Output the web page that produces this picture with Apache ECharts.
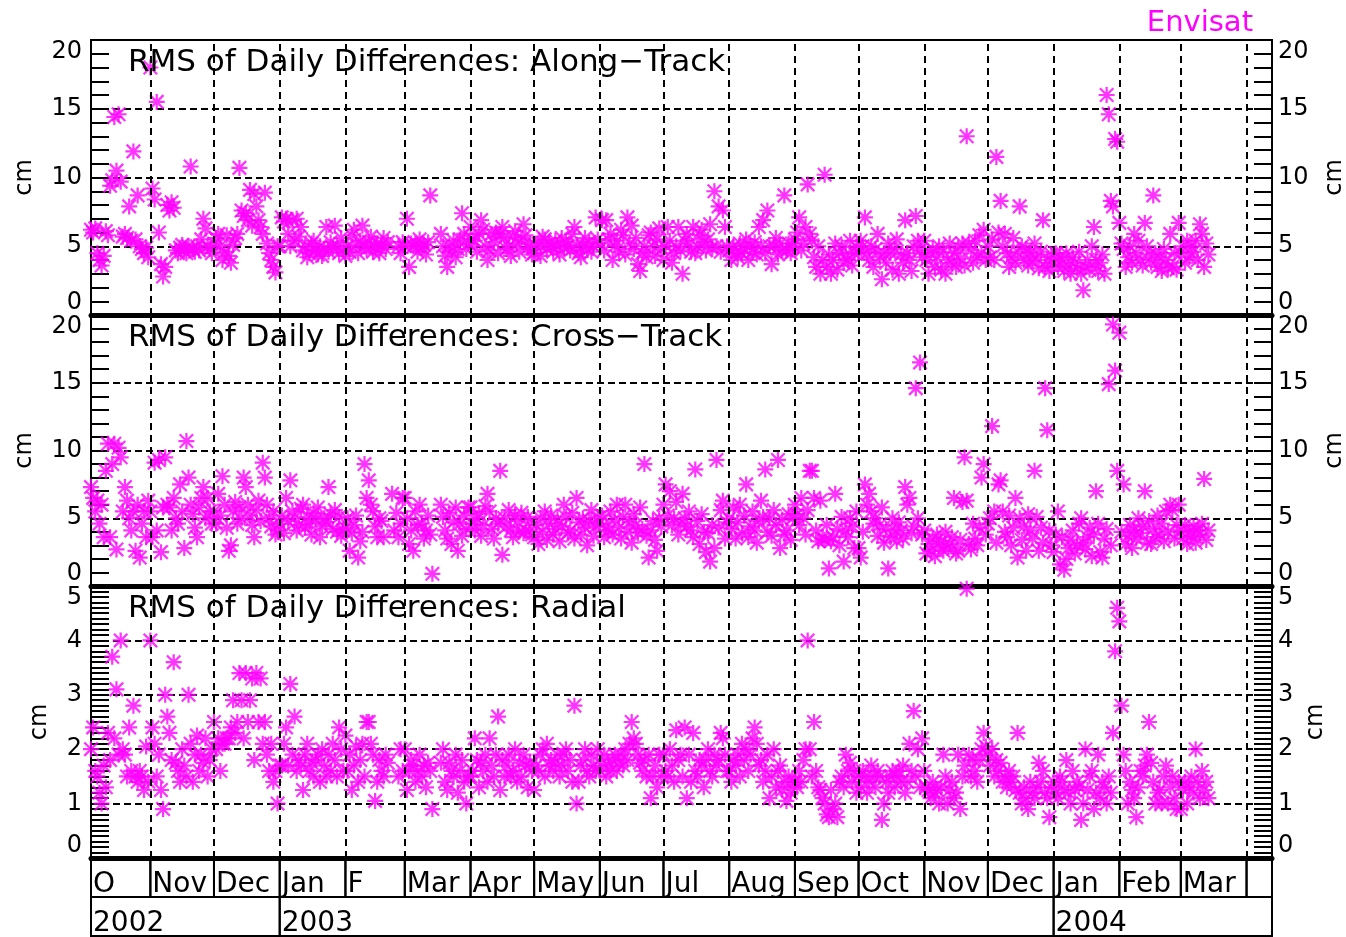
<!DOCTYPE html>
<html>
<head>
<meta charset="utf-8">
<title>Envisat RMS of Daily Differences</title>
<script src="https://cdn.jsdelivr.net/npm/echarts@6/dist/echarts.min.js"></script>
<style>
  html, body { margin: 0; padding: 0; background: #fff; }
  #chart { width: 1346px; height: 937px; }
</style>
</head>
<body>
<div id="chart"></div>
<script>
// time range of the x axis and first day of the daily series
const axisStart = '2002-10-04'
const axisEnd = '2004-04-13'
const dataStart = '2002-10-04'

// month boxes under the plots
const monthStarts = ['2002-11-01', '2002-12-01', '2003-01-01', '2003-02-01', '2003-03-01', '2003-04-01',
  '2003-05-01', '2003-06-01', '2003-07-01', '2003-08-01', '2003-09-01', '2003-10-01', '2003-11-01',
  '2003-12-01', '2004-01-01', '2004-02-01', '2004-03-01', '2004-04-01']
const monthLabels = ['O', 'Nov', 'Dec', 'Jan', 'F', 'Mar', 'Apr', 'May', 'Jun', 'Jul', 'Aug', 'Sep',
  'Oct', 'Nov', 'Dec', 'Jan', 'Feb', 'Mar', '']
const yearStarts = ['2003-01-01', '2004-01-01']
const yearLabels = ['2002', '2003', '2004']

const panelTitles = ['RMS of Daily Differences: Along\u2212Track', 'RMS of Daily Differences: Cross\u2212Track',
  'RMS of Daily Differences: Radial']

// daily RMS values (cm), one line per month, null = no data
const alongTrack = [
  6.2, 6.0, 6.3, 4.5, 4.0, 3.6, 4.3, 6.1, 5.8, 9.4, 9.8, 14.4, 10.5, 14.6, 9.7, 5.7, 5.9, 5.6, 7.9, 5.4, 11.9, 5.5, 8.7, 5.0, 4.8, 4.5, 4.9, 4.2,
  18.0, 9.2, 8.4, 15.5, 6.0, 3.7, 2.8, 3.5, 8.0, 7.6, 8.2, 7.8, 4.7, 4.5, 4.9, 5.1, 4.7, 4.5, 5.0, 10.8, 4.8, 4.6, 5.0, 4.7, 5.5, 7.0, 6.3, 5.0, 4.8, 4.5,
  5.2, 5.6, 5.9, 5.0, 4.0, 4.6, 5.8, 4.3, 3.8, 5.1, 5.6, 5.9, 10.7, 7.6, 7.2, 7.4, 6.9, 9.1, 6.5, 8.8, 7.9, 6.9, 6.4, 5.9, 8.9, 5.2, 4.5, 4.0, 3.5, 3.1, 5.0,
  5.0, 7.1, 6.8, 7.0, 5.9, 5.0, 6.9, 5.4, 7.0, 5.7, 6.4, 4.7, 5.0, 4.2, 4.5, 5.2, 5.4, 4.7, 4.4, 5.0, 4.3, 4.8, 6.4, 4.6, 5.3, 4.9, 6.5, 5.0, 4.5, 5.6, 4.8,
  4.3, 5.0, 4.6, 5.8, 6.2, 5.1, 4.5, 5.4, 6.5, 5.0, 4.8, 5.3, 5.7, 4.6, 4.9, 5.2, 4.5, 5.1, 5.6, 4.8, 5.3, null, null, null, null, 5.0, 4.5, 5.3,
  5.0, 7.0, 3.5, 5.2, 5.0, 5.2, 4.6, 5.5, 4.9, 5.1, 4.4, 5.3, 8.7, null, null, null, null, 5.9, 5.0, 4.3, 3.5, 5.0, 4.6, 5.4, 4.2, 4.8, 5.5, 7.4, 5.9, 4.8, 5.2,
  6.4, 5.5, 5.4, 4.6, 5.9, 6.9, 6.2, 5.0, 4.0, 4.7, 5.9, 5.3, 6.0, 4.5, 5.9, 6.4, 5.6, 4.8, 5.0, 4.3, 5.7, 6.1, 5.2, 4.6, 5.5, 6.6, 5.8, 4.9, 5.2, 4.4,
  4.5, 5.0, 5.2, 4.3, 5.7, 5.5, 4.8, 5.2, 5.0, 4.6, 5.4, 5.0, 4.4, 5.6, 4.9, 5.3, 5.0, 4.7, 5.9, 6.4, 5.1, 4.5, 4.2, 5.0, 5.6, 4.8, 5.3, 4.6, 5.0, 7.1, 5.5,
  5.2, 6.9, 4.7, 6.9, 5.5, 5.9, 4.0, 5.0, 5.4, 4.6, 6.2, 5.8, 4.4, 7.1, 5.2, 6.5, 4.8, 5.6, 3.7, 3.2, 4.5, 5.0, 4.2, 5.8, 6.0, 5.0, 4.3, 5.5, 6.3, 4.8,
  4.0, 5.0, 6.4, 5.4, 3.8, 4.5, 5.0, 6.4, 4.7, 3.0, 5.4, 5.9, 5.2, 4.6, 6.4, 4.5, 5.0, 5.8, 6.2, 5.3, 4.7, 5.5, 6.6, 4.9, 9.0, 5.0, 7.9, 4.6, 7.6, 6.4, 5.0,
  4.7, 4.0, 5.0, 4.5, 4.2, 5.2, 4.5, 4.8, 5.5, 4.0, 5.0, 4.6, 5.3, 4.4, 6.4, 5.0, 6.9, 4.5, 7.6, 5.0, 3.7, 5.0, 5.6, 4.4, 5.2, 4.7, 8.7, 4.7, 5.2, 4.5, 5.0,
  5.5, 6.0, 7.1, 4.7, 5.2, 6.4, 9.5, 5.9, 5.4, 4.2, 3.5, 5.0, 3.0, 4.0, 10.2, 3.5, 4.4, 3.0, 4.0, 5.2, 3.3, 4.5, 5.0, 3.8, 4.4, 4.0, 5.4, 3.6, 4.5, 5.0,
  4.5, 5.4, 5.0, 7.1, 4.5, 4.0, 5.0, 3.5, 4.8, 5.9, 4.2, 2.6, 4.5, 3.8, 5.2, 4.5, 3.3, 4.8, 5.5, 3.0, 4.4, 3.8, 6.9, 4.5, 4.0, 3.2, 5.0, 7.2, 5.4, 4.7, 4.2,
  5.4, 4.0, 3.0, 4.5, 4.8, 3.5, 4.2, 5.0, 3.3, 4.6, 3.0, 4.0, 5.2, 3.8, 4.5, 3.5, 4.9, 4.1, 5.2, 3.6, 13.0, 5.2, 4.7, 3.8, 5.4, 4.2, 5.8, 4.5, 6.2, 4.0,
  5.0, 4.2, 5.5, 4.0, 11.5, 6.0, 8.3, 5.0, 5.9, 4.5, 3.5, 4.2, 5.6, 3.8, 4.6, 7.9, 5.0, 4.0, 4.8, 3.6, 4.5, 3.9, 5.2, 4.2, 3.4, 4.6, 6.9, 3.5, 4.0, 3.2, 4.4,
  3.8, 4.5, 3.5, 4.2, 4.0, 3.2, 4.5, 3.6, 3.0, 4.2, 3.8, 3.4, 4.6, 3.0, 1.8, 3.5, 4.0, 3.3, 5.0, 6.4, 4.0, 3.2, 3.8, 4.4, 3.0, 16.0, 14.6, 8.3, 7.9, 12.8, 12.6,
  6.7, 5.2, 4.8, 3.5, 4.2, 5.0, 3.8, 5.9, 4.5, 5.4, 4.0, 3.6, 6.7, 5.0, 4.4, 3.8, 8.7, 4.5, 3.5, 4.2, 3.2, 4.8, 4.0, 3.4, 5.9, 3.5, 4.5, 3.3, 6.7,
  4.5, 5.0, 3.8, 5.4, 4.2, 5.0, 4.6, 5.4, 4.0, 6.6, 5.9, 3.5, 5.2, 4.4
]

const crossTrack = [
  7.3, 6.5, 5.5, 6.3, 4.6, 6.0, 3.6, 8.5, 10.5, 3.6, 9.0, 10.5, 2.7, 10.2, 9.5, 5.5, 7.3, 6.3, 5.0, 4.1, 5.5, 2.6, 6.0, 2.1, 4.6, 5.5, 3.6, 6.3,
  5.5, 3.6, 9.1, 4.1, 9.3, 2.5, 5.8, 9.5, 6.0, 5.8, 4.1, 6.5, 5.0, 4.6, 7.5, 5.5, 2.8, 10.7, 8.0, 6.0, 5.3, 4.3, 3.6, 5.8, 6.5, 7.3, 5.0, 6.5, 5.5, 4.6,
  5.5, 4.6, 6.8, 5.2, 8.1, 6.0, 4.3, 2.6, 3.0, 5.5, 6.2, 4.6, 5.8, 5.0, 8.0, 7.3, 6.0, 5.2, 4.5, 3.6, 5.6, 6.3, 4.8, 9.1, 8.0, 6.0, 5.0, 4.4, 5.5, 3.8, 4.1,
  4.6, 5.2, 3.9, 6.5, 4.8, 7.8, 5.5, 5.0, 4.1, 4.5, 5.7, 6.0, 4.3, 5.1, 4.6, 3.8, 5.4, 4.9, 5.8, 3.6, 4.4, 5.0, 4.7, 7.3, 5.3, 4.2, 5.6, 4.0, 5.1, 3.7, 4.1,
  4.3, 5.0, 2.6, 3.9, 4.5, 5.2, 2.1, 3.3, 4.0, 9.0, 6.5, 7.8, 6.0, 5.5, 4.4, 3.6, 5.0, 4.8, 3.6, null, null, null, 6.8, 4.1, 5.4, 3.6, 4.6, 6.5,
  6.5, 5.0, 3.1, 4.1, 2.6, 5.5, 4.5, 6.0, 4.6, 3.5, 4.1, 5.2, 3.8, 0.9, null, null, null, 6.0, 5.1, 4.1, 3.5, 5.4, 3.1, 4.7, 5.8, 2.6, 4.6, 3.7, 5.2, 4.2, 5.8,
  5.8, 4.6, 4.1, 5.0, 5.3, 3.7, 4.5, 5.9, 6.8, 5.5, 4.2, 3.5, 5.0, 4.6, 8.5, 2.3, 5.0, 4.4, 5.6, 4.1, 3.6, 5.2, 4.8, 4.0, 5.4, 3.9, 4.1, 5.1, 4.7, 3.8,
  3.6, 4.5, 3.1, 5.0, 4.0, 5.5, 3.4, 4.6, 5.2, 3.8, 4.2, 4.9, 3.3, 4.4, 6.0, 5.1, 3.9, 4.1, 5.4, 3.5, 6.5, 4.7, 3.8, 5.0, 4.3, 3.0, 4.8, 5.6, 3.7, 4.4, 5.0,
  4.6, 5.2, 3.6, 4.4, 4.1, 5.5, 3.8, 4.9, 6.0, 4.3, 3.5, 5.1, 6.0, 4.0, 4.7, 3.2, 5.3, 4.5, 3.9, 5.8, 4.2, 9.0, 3.7, 2.1, 4.1, 4.8, 3.4, 2.6, 5.0, 4.4,
  6.0, 7.5, 5.2, 7.0, 4.5, 5.0, 6.2, 3.8, 4.6, 6.8, 5.0, 4.4, 5.5, 4.1, 3.6, 8.6, 4.8, 3.1, 5.3, 4.0, 2.5, 3.9, 1.8, 4.5, 2.8, 9.3, 4.3, 5.6, 6.3, 3.5, 4.7,
  5.0, 4.2, 5.8, 3.5, 4.7, 6.0, 3.9, 5.2, 7.5, 3.6, 4.4, 5.5, 4.1, 3.2, 4.8, 6.3, 5.1, 8.6, 4.0, 5.0, 3.7, 5.6, 4.5, 9.3, 2.8, 4.9, 3.8, 4.1, 5.3, 3.4, 5.0,
  6.0, 5.3, 4.5, 6.5, 5.0, 3.8, 5.6, 8.5, 8.5, 6.5, 4.1, 3.3, 6.3, 3.5, 3.4, 4.5, 1.3, 3.3, 3.6, 6.8, 4.2, 3.0, 5.1, 1.8, 4.1, 3.6, 5.0, 4.4, 2.8, 5.5,
  2.8, 2.1, 4.0, 7.5, 6.0, 6.8, 5.5, 4.6, 5.0, 3.7, 4.5, 5.8, 3.2, 4.2, 1.3, 3.6, 5.0, 4.1, 3.3, 4.7, 4.1, 3.5, 7.3, 6.0, 6.5, 3.9, 4.4, 14.6, 5.0, 16.5, 3.8,
  4.1, 2.4, 3.1, 2.6, 3.5, 2.2, 3.8, 2.9, 3.3, 2.6, 4.0, 2.8, 3.1, 3.6, 6.5, 2.4, 2.6, 3.4, 6.2, 9.5, 6.3, 3.1, 2.7, 4.6, 3.5, 3.0, 4.3, 8.0, 9.0, 3.8,
  4.6, 5.0, 11.8, 5.5, 3.2, 7.5, 7.8, 5.5, 4.0, 3.6, 5.2, 3.0, 4.3, 6.5, 2.1, 5.0, 3.4, 4.4, 2.6, 5.3, 4.1, 3.5, 8.5, 5.1, 2.6, 4.3, 3.2, 14.6, 11.5, 4.1, 3.0,
  2.5, 3.8, 5.5, 1.6, 3.6, 1.2, 2.0, 2.8, 3.4, 4.1, 2.4, 3.0, 4.6, 5.0, 3.2, 2.7, 3.6, 4.3, 2.2, 3.8, 7.0, 4.6, 2.5, 2.1, 3.5, 4.2, 14.9, 3.0, 19.3, 15.9, 8.5,
  18.7, 4.0, 7.5, 3.1, 3.7, 4.5, 2.8, 4.1, 3.5, 5.0, 3.9, 4.4, 7.0, 3.2, 4.8, 3.1, 4.2, 3.6, 5.2, 3.8, 4.6, 3.3, 5.5, 4.0, 6.0, 5.6, 3.5, 4.5, 6.0,
  4.1, 3.5, 4.5, 3.1, 4.0, 3.7, 4.4, 3.2, 4.1, 3.8, 4.6, 7.9, 3.4, 4.1
]

const radial = [
  2.0, 2.4, 1.6, 1.5, 1.2, 1.0, 1.7, 1.3, 2.3, 1.8, 3.7, 2.2, 3.1, 1.9, 4.0, 2.0, 1.9, 1.5, 2.4, 1.6, 2.8, 1.5, 1.4, 1.6, 1.5, 1.25, 2.05, 1.4,
  4.0, 2.4, 2.1, 1.5, 1.9, 1.25, 0.9, 3.0, 2.6, 2.3, 1.8, 3.6, 1.75, 1.6, 1.4, 2.0, 1.7, 1.5, 3.0, 2.1, 1.4, 1.9, 2.25, 1.6, 1.9, 1.75, 2.2, 1.5, 1.8, 2.0,
  2.5, 2.0, 2.2, 1.6, 2.1, 2.1, 2.2, 2.2, 2.4, 2.9, 2.3, 2.5, 3.4, 2.9, 2.2, 3.4, 2.5, 2.9, 3.3, 1.8, 3.4, 2.5, 3.3, 2.1, 2.5, 1.9, 1.6, 2.1, 1.4, 1.6, 1.0,
  1.7, 1.7, 2.1, 2.4, 1.7, 3.2, 1.9, 2.6, 1.6, 1.8, 1.7, 1.25, 1.9, 2.1, 1.6, 1.75, 1.5, 1.8, 1.9, 1.4, 2.0, 1.7, 1.5, 1.9, 1.6, 2.1, 1.8, 1.5, 2.4, 2.0, 1.6,
  2.25, 1.6, 1.9, 1.25, 1.7, 2.05, 1.4, 1.8, 2.1, 1.5, 2.5, 2.5, 2.1, 1.9, 1.05, 1.4, 1.8, 1.6, 1.5, 1.9, 1.75, null, null, null, null, 1.5, 2.0, 1.6,
  2.0, 1.25, 1.6, 1.8, 1.7, 1.4, 1.6, 1.9, 1.5, 1.7, 1.3, 1.75, 1.6, 0.9, null, null, null, 1.75, 2.0, 1.4, 1.25, 1.75, 1.6, 1.5, 1.9, 1.2, 1.6, 1.8, 1.4, 1.0, 1.5,
  1.5, 1.6, 2.2, 1.8, 1.3, 1.75, 1.6, 1.9, 1.4, 2.2, 1.7, 1.5, 1.9, 2.6, 1.25, 1.8, 1.5, 1.7, 1.9, 1.5, 1.6, 2.0, 1.4, 1.75, 1.5, 1.9, 1.7, 1.3, 1.75, 1.6,
  1.25, 1.7, 1.6, 1.9, 2.0, 1.5, 2.1, 1.7, 1.8, 1.6, 1.75, 1.9, 1.5, 1.7, 1.9, 2.0, 1.6, 1.8, 1.4, 2.8, 1.0, 1.4, 1.7, 1.8, 2.0, 1.6, 1.5, 1.9, 1.7, 1.6, 2.0,
  1.6, 1.75, 1.9, 1.5, 1.7, 1.6, 1.8, 1.9, 1.6, 1.75, 1.9, 1.7, 2.0, 1.8, 2.1, 2.5, 2.2, 2.1, 1.9, 1.75, 1.6, 1.8, 1.5, 1.9, 1.1, 1.5, 1.7, 1.3, 1.9, 1.5,
  1.9, 1.6, 1.5, 2.0, 1.7, 1.4, 2.35, 1.8, 1.9, 1.5, 2.4, 1.1, 1.9, 1.4, 2.3, 1.6, 1.5, 1.8, 1.7, 1.3, 1.8, 2.0, 1.6, 1.5, 1.9, 1.7, 1.8, 2.3, 2.2, 1.9, 1.6,
  1.6, 1.4, 1.8, 1.7, 1.9, 1.5, 2.1, 1.8, 2.0, 1.6, 1.9, 2.2, 2.4, 2.1, 1.7, 1.8, 1.4, 1.6, 1.9, 1.1, 1.5, 2.0, 1.3, 1.6, 1.7, 1.25, 1.4, 1.05, 1.5, 1.2, 1.4,
  1.4, 1.3, 1.6, 1.4, 1.8, 2.0, 4.0, 2.0, 1.5, 2.5, 1.6, 1.3, 1.25, 1.1, 1.0, 0.8, 0.75, 1.25, 0.9, 1.0, 0.75, 1.4, 1.5, 1.3, 1.9, 1.6, 1.75, 1.4, 1.6, 1.2,
  1.5, 1.3, 1.6, 1.5, 1.2, 1.4, 1.7, 1.5, 1.3, 1.6, 1.5, 0.7, 1.0, 1.4, 1.2, 1.5, 1.6, 1.3, 1.5, 1.6, 1.4, 1.7, 1.2, 1.4, 2.1, 1.6, 2.7, 1.5, 2.0, 1.3, 2.2,
  1.6, 1.3, 1.25, 1.1, 1.4, 1.2, 1.25, 1.0, 1.3, 1.9, 1.5, 1.0, 1.25, 1.4, 1.1, 1.2, 1.9, 0.9, 1.5, 1.7, 4.95, 1.9, 1.5, 1.8, 1.6, 1.4, 1.8, 2.0, 2.3, 2.05,
  1.9, 1.7, 2.0, 1.5, 1.8, 1.6, 1.75, 1.4, 1.5, 1.3, 1.6, 1.4, 1.5, 1.25, 2.3, 1.2, 1.0, 1.3, 1.1, 0.9, 1.4, 1.2, 1.1, 1.3, 1.75, 1.4, 1.6, 1.2, 1.1, 0.75, 1.3,
  1.4, 1.2, 1.1, 1.5, 1.4, 1.25, 1.8, 1.2, 1.0, 1.6, 1.25, 1.4, 1.3, 0.7, 1.0, 2.0, 1.25, 1.5, 1.6, 0.9, 1.2, 1.9, 1.1, 1.4, 1.3, 1.0, 1.5, 1.2, 2.3, 3.8, 4.6,
  4.35, 2.8, 1.9, 1.6, 1.0, 1.4, 1.25, 1.1, 0.75, 1.3, 1.6, 1.5, 1.7, 1.9, 2.5, 1.75, 1.4, 1.0, 1.2, 1.25, 1.0, 1.5, 1.7, 1.0, 1.3, 1.5, 1.1, 0.9, 1.4,
  0.9, 1.25, 1.4, 1.0, 1.3, 1.5, 1.2, 2.0, 1.4, 1.1, 1.6, 1.25, 1.4, 1.1
]

const dayMs = 86400000
const ts = s => new Date(s + 'T00:00:00Z').getTime()
const xMin = ts(axisStart)
const xMax = ts(axisEnd)

const toPoints = values => {
  const first = ts(dataStart)
  const pts = []
  values.forEach((v, i) => {
    if (v !== null) pts.push([first + i * dayMs, v])
  })
  return pts
}

// IDL style asterisk (psym=2)
const starPath = 'path://M8.6,0L11.4,0L11.4,20L8.6,20ZM0,8.6L20,8.6L20,11.4L0,11.4Z' +
  'M2.6,0.6L19.4,17.4L17.4,19.4L0.6,2.6ZM17.4,0.6L19.4,2.6L2.6,19.4L0.6,17.4Z'

const font = 'DejaVu Sans'
const black = '#000'
const magenta = '#ff00ff'

const chart = echarts.init(document.getElementById('chart'), null, { renderer: 'canvas' })

const panels = [
  { top: 40, height: 275, max: 20, interval: 5, minor: 5, values: alongTrack, gapL: 54, gapR: 51 },
  { top: 315, height: 271, max: 20, interval: 5, minor: 5, values: crossTrack, gapL: 54, gapR: 51 },
  { top: 586, height: 272, max: 5, interval: 1, minor: 10, values: radial, gapL: 39, gapR: 32 }
]

const grids = []
const xAxes = []
const yAxes = []
const series = []

panels.forEach((p, i) => {
  grids.push({
    left: 91, right: 74, top: p.top, height: p.height, show: true, borderColor: black, borderWidth: 2,
    containLabel: false, outerBoundsMode: 'none'
  })
  xAxes.push({
    type: 'time', gridIndex: i, min: xMin, max: xMax,
    axisLine: { show: true, onZero: false, lineStyle: { color: black, width: 5 } },
    axisTick: { show: false }, axisLabel: { show: false }, splitLine: { show: false }
  })
  ;['left', 'right'].forEach(side => {
    yAxes.push({
      type: 'value', gridIndex: i, position: side, min: 0, max: p.max, interval: p.interval,
      name: 'cm', nameLocation: 'middle', nameRotate: 90,
      nameGap: side === 'left' ? p.gapL : p.gapR,
      nameMoveOverlap: false,
      nameTextStyle: { fontFamily: font, fontSize: 24, color: black },
      axisLine: { show: true, lineStyle: { color: black, width: 2 } },
      axisTick: { show: true, inside: true, length: 18, lineStyle: { color: black, width: 2 } },
      minorTick: { show: true, splitNumber: p.minor, length: 18, lineStyle: { color: black, width: 2 } },
      axisLabel: {
        fontFamily: font, fontSize: 24, color: black, margin: side === 'left' ? 9 : 6,
        verticalAlignMaxLabel: 'top', verticalAlignMinLabel: 'bottom'
      },
      splitLine: {
        show: side === 'left', showMinLine: false, showMaxLine: false,
        lineStyle: { color: black, width: 2, type: [7, 4] }
      }
    })
  })
  // month grid lines
  series.push({
    type: 'line', xAxisIndex: i, yAxisIndex: 2 * i, data: [], z: 1, silent: true,
    markLine: {
      silent: true, symbol: ['none', 'none'], label: { show: false },
      lineStyle: { color: black, width: 2, type: [7, 5] },
      data: monthStarts.map(d => ({ xAxis: ts(d) }))
    }
  })
  series.push({
    type: 'scatter', xAxisIndex: i, yAxisIndex: 2 * i, z: 3,
    symbol: starPath, symbolSize: 16,
    itemStyle: { color: magenta },
    data: toPoints(p.values)
  })
})

// month / year boxes
grids.push({ left: 91, right: 74, top: 858, height: 78, containLabel: false, outerBoundsMode: 'none' })
xAxes.push({ type: 'time', gridIndex: 3, min: xMin, max: xMax, show: false })
yAxes.push({ type: 'value', gridIndex: 3, min: 0, max: 2, show: false })

const monthEdges = [axisStart, ...monthStarts, axisEnd]
const yearEdges = [axisStart, ...yearStarts, axisEnd]
const cells = []
monthLabels.forEach((lab, k) => cells.push([ts(monthEdges[k]), ts(monthEdges[k + 1]), 1, lab]))
yearLabels.forEach((lab, k) => cells.push([ts(yearEdges[k]), ts(yearEdges[k + 1]), 0, lab]))

series.push({
  type: 'custom', xAxisIndex: 3, yAxisIndex: 6, silent: true,
  encode: { x: [0, 1], y: 2 },
  data: cells,
  renderItem: (params, api) => {
    const row = api.value(2)
    const p0 = api.coord([api.value(0), row + 1])
    const p1 = api.coord([api.value(1), row])
    return {
      type: 'group',
      children: [
        {
          type: 'rect',
          shape: { x: p0[0], y: p0[1], width: p1[0] - p0[0], height: p1[1] - p0[1] },
          style: { fill: 'none', stroke: black, lineWidth: 2 }
        },
        {
          type: 'text',
          style: {
            x: p0[0] + 2, y: (p0[1] + p1[1]) / 2 + 7, text: cells[params.dataIndex][3],
            fill: black, fontFamily: font, fontSize: 28, align: 'left', verticalAlign: 'middle'
          }
        }
      ]
    }
  }
})

const titles = panelTitles.map((t, i) => ({
  text: t, left: 128, top: panels[i].top + 7, padding: 0,
  textStyle: { fontFamily: font, fontSize: 31, fontWeight: 'normal', color: black }
}))
titles.push({
  text: 'Envisat', right: 93, top: 9, padding: 0,
  textStyle: { fontFamily: font, fontSize: 29, fontWeight: 'normal', color: magenta }
})

chart.setOption({
  animation: false,
  useUTC: true,
  backgroundColor: '#fff',
  title: titles,
  grid: grids,
  xAxis: xAxes,
  yAxis: yAxes,
  series: series
})

window.addEventListener('resize', () => chart.resize())
</script>
</body>
</html>
